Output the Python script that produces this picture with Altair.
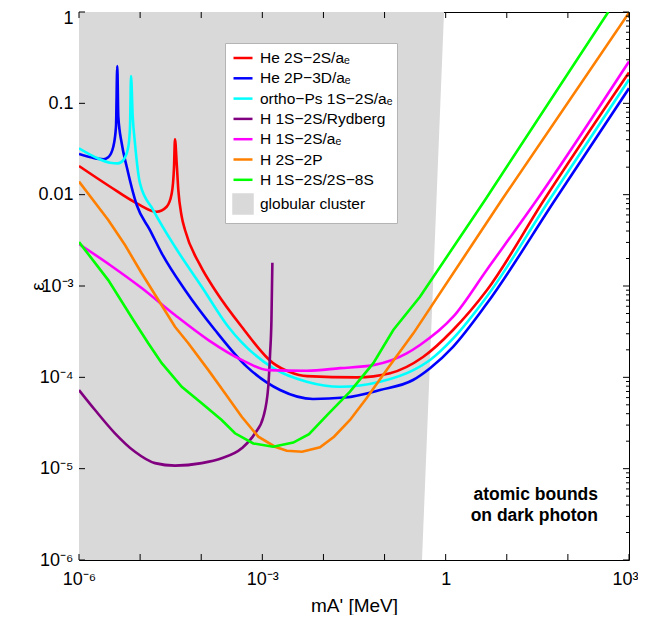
import altair as alt
import pandas as pd

# ---------------- data ----------------
names = ["He 2S−2S/aₑ", "He 2P−3D/aₑ", "ortho−Ps 1S−2S/aₑ", "H 1S−2S/Rydberg",
         "H 1S−2S/aₑ", "H 2S−2P", "H 1S−2S/2S−8S", "globular cluster"]
colors = ["#ff0000", "#0000ff", "#00ffff", "#800080", "#ff00ff", "#ff8000", "#00ff00", "#d9d9d9"]

red_m = [1e-6, 3.1e-6, 8.8e-6, 1.87e-5, 2.72e-5, 3.29e-5, 3.59e-5, 3.72e-5, 3.97e-5, 4.22e-5,
         4.8e-5, 5.43e-5, 9.55e-5, 1.68e-4, 4.6e-4, 1.5e-3, 2.84e-3, 5.38e-3, 0.0354, 0.123,
         0.426, 1.32, 4.75, 40.6, 1000]
red_eps = [0.0206, 0.01245, 8.04e-3, 6.5e-3, 7.38e-3, 0.0103, 0.0202, 0.0404, 0.0220, 0.0112,
           5.74e-3, 4.1e-3, 1.7e-3, 9.04e-4, 3.58e-4, 1.43e-4, 1.14e-4, 1.03e-4, 1.0e-4, 1.11e-4,
           1.67e-4, 3.3e-4, 9.04e-4, 8.74e-3, 0.218]

blue_m = [1e-6, 1.63e-6, 2.5e-6, 3.01e-6, 3.64e-6, 4.03e-6, 4.23e-6, 4.4e-6, 5.0e-6, 6.04e-6,
          8.8e-6, 1.45e-5, 2.26e-5, 5.43e-5, 1.68e-4, 5.55e-4, 1.95e-3, 6.75e-3, 0.0225, 0.0843,
          0.292, 0.555, 1.32, 4.75, 61.5, 1000]
blue_eps = [0.0279, 0.0255, 0.0244, 0.0257, 0.0335, 0.0555, 0.256, 0.0714, 0.0365, 0.0202,
            7.7e-3, 4.1e-3, 2.28e-3, 9.04e-4, 3.3e-4, 1.31e-4, 7.26e-5, 5.79e-5, 6.01e-5, 7.26e-5,
            9.35e-5, 1.26e-4, 2.16e-4, 6.46e-4, 8.74e-3, 0.146]

cyan_m = [1e-6, 1.83e-6, 3.21e-6, 4.35e-6, 5.31e-6, 6.41e-6, 6.84e-6, 7.1e-6, 7.57e-6, 8.24e-6,
          9.96e-6, 1.64e-5, 3.72e-5, 1.02e-4, 2.77e-4, 1.51e-3, 5.32e-3, 0.0187, 0.0843, 0.296,
          0.555, 1.33, 4.7, 49.7, 1000]
cyan_eps = [0.0322, 0.0258, 0.0224, 0.0220, 0.0239, 0.0335, 0.0555, 0.199, 0.0714, 0.0365,
            0.0133, 6.79e-3, 2.69e-3, 9.82e-4, 3.58e-4, 1.26e-4, 8.95e-5, 7.89e-5, 8.95e-5, 1.2e-4,
            1.55e-4, 2.67e-4, 7.63e-4, 8.74e-3, 0.182]

purple_m = [1e-6, 1.83e-6, 3.88e-6, 8.24e-6, 1.75e-5, 3.72e-5, 1.02e-4, 2.16e-4, 4.6e-4, 7.59e-4,
            1.04e-3, 1.25e-3, 1.34e-3, 1.41e-3, 1.46e-3]
purple_eps = [7.26e-5, 4.39e-5, 2.44e-5, 1.53e-5, 1.15e-5, 1.08e-5, 1.15e-5, 1.3e-5, 1.67e-5, 2.44e-5,
              3.7e-5, 7.89e-5, 1.83e-4, 4.25e-4, 1.8e-3]

magenta_m = [1e-6, 3.21e-6, 1.06e-5, 3.72e-5, 1.31e-4, 4.6e-4, 1.25e-3, 5.32e-3, 0.0187, 0.0655,
             0.23, 0.38, 1.33, 4.7, 30.9, 1000]
magenta_eps = [2.88e-3, 1.70e-3, 9.5e-4, 4.81e-4, 2.56e-4, 1.55e-4, 1.2e-4, 1.18e-4, 1.26e-4, 1.36e-4,
               1.83e-4, 2.26e-4, 4.61e-4, 1.5e-3, 8.74e-3, 0.287]

orange_m = [1e-6, 3.01e-6, 5.66e-6, 1.06e-5, 1.99e-5, 3.72e-5, 6.15e-5, 1.31e-4, 2.45e-4, 4.6e-4,
            8.59e-4, 1.61e-3, 2.51e-3, 4.46e-3, 8.79e-3, 0.0149, 0.0272, 0.051, 0.108, 0.296,
            0.38, 8.26, 1000]
orange_eps = [0.0139, 5.28e-3, 2.81e-3, 1.38e-3, 7.03e-4, 3.58e-4, 2.36e-4, 1.2e-4, 6.68e-5, 3.7e-5,
              2.24e-5, 1.74e-5, 1.57e-5, 1.53e-5, 1.71e-5, 2.24e-5, 3.41e-5, 5.94e-5, 1.2e-4, 3.03e-4,
              3.9e-4, 8.74e-3, 0.98]

green_m = [1e-6, 3.01e-6, 7.74e-6, 1.36e-5, 2.26e-5, 4.8e-5, 1.02e-4, 2.16e-4, 3.57e-4, 7.12e-4,
           1.5e-3, 3.21e-3, 5.8e-3, 0.0119, 0.0272, 0.0655, 0.139, 0.38, 4.41, 458]
green_eps = [3.03e-3, 1.16e-3, 4.25e-4, 2.36e-4, 1.43e-4, 7.89e-5, 5.2e-5, 3.41e-5, 2.44e-5, 1.89e-5,
             1.74e-5, 1.93e-5, 2.39e-5, 3.96e-5, 6.97e-5, 1.43e-4, 3.3e-4, 7.63e-4, 8.74e-3, 1.0]

# globular cluster excluded region (left of a slanted edge)
gc_eps = [1e-6, 1.0]
gc_edge_m = [0.41, 0.94]
gc_low_m = 1e-6

ann_lines = ["atomic bounds", "on dark photon"]

x_decades = [1e-6, 1e-5, 1e-4, 1e-3, 1e-2, 1e-1, 1, 10, 100, 1000]
y_decades = [1e-6, 1e-5, 1e-4, 1e-3, 1e-2, 1e-1, 1]
y_minor = [k * d for d in y_decades[:-1] for k in range(2, 10)]
x_label_vals = [1e-6, 1e-3, 1, 1000]

# ---------------- layout constants ----------------
W, H = 550, 548
ANN_M = 311
ANN_EPS = [5.15e-6, 3.03e-6]
FONT = "Liberation Sans"

smooth_sets = [(names[0], red_m, red_eps), (names[1], blue_m, blue_eps), (names[2], cyan_m, cyan_eps),
               (names[3], purple_m, purple_eps), (names[4], magenta_m, magenta_eps)]
linear_sets = [(names[5], orange_m, orange_eps), (names[6], green_m, green_eps)]


def build(sets):
    rows = []
    for name, ms, es in sets:
        for i, (m, e) in enumerate(zip(ms, es)):
            rows.append({"series": name, "m": m, "eps": e, "i": i})
    return pd.DataFrame(rows)


df_smooth = build(smooth_sets)
df_linear = build(linear_sets)
df_gc = pd.DataFrame({"eps": gc_eps, "m_edge": gc_edge_m, "m_low": [gc_low_m] * len(gc_eps)})
df_ann = pd.DataFrame({"m": [ANN_M] * len(ann_lines), "eps": ANN_EPS, "t": ann_lines})

ex = "round(log(datum.value)/LN10)"
xlab = f"{ex} == 0 ? '1' : {ex} == 3 ? '10³' : {ex} == -3 ? '10⁻³' : '10⁻⁶'"
ylab = (f"{ex} == 0 ? '1' : {ex} == -1 ? '0.1' : {ex} == -2 ? '0.01' : "
        f"'10' + ({ex} == -3 ? '⁻³' : {ex} == -4 ? '⁻⁴' : {ex} == -5 ? '⁻⁵' : '⁻⁶')")

xs = alt.Scale(type="log", domain=[1e-6, 1e3])
ys = alt.Scale(type="log", domain=[1e-6, 1])

xaxis = alt.Axis(values=x_label_vals, labelExpr=xlab, ticks=False, tickSize=0, domain=False, grid=False,
                 labelFont=FONT, labelFontSize=18, labelColor="black", labelFlush=False,
                 labelOverlap=False, labelPadding=10,
                 labelOffset={"condition": {"test": "datum.value > 500", "value": -4}, "value": 0},
                 title="mA' [MeV]", titleFont=FONT,
                 titleFontSize=19, titleFontWeight="normal", titleColor="black",
                 titleY=45, titleBaseline="middle")
yaxis = alt.Axis(values=y_decades, labelExpr=ylab, ticks=False, tickSize=0, domain=False, grid=False,
                 labelFont=FONT, labelFontSize=18, labelColor="black", labelFlush=False,
                 labelOverlap=False, labelPadding=6,
                 labelOffset={"condition": {"test": "datum.value > 0.5", "value": 6}, "value": 0},
                 title="ε", titleFont=FONT,
                 titleFontSize=19, titleFontWeight="normal", titleColor="black",
                 titleX=-42, titleY=H / 2, titleBaseline="middle")

legend = alt.Legend(
    title=None, orient="none", legendX=146, legendY=31,
    fillColor="white", strokeColor="#b4b4b4", padding=4,
    symbolType={"expr": "datum.value == 'globular cluster' ? 'square' : 'stroke'"},
    symbolFillColor={"expr": "datum.value == 'globular cluster' ? '#d9d9d9' : 'transparent'"},
    symbolSize=361, symbolStrokeWidth=2.5, symbolOffset=3,
    labelFont=FONT, labelFontSize=15.5, labelColor="black", labelOffset=6,
    rowPadding=0.3, zindex=1,
)
color = alt.Color("series:N", scale=alt.Scale(domain=names, range=colors), legend=legend)

X = lambda f: alt.X(f, scale=xs, axis=xaxis)
Y = lambda f: alt.Y(f, scale=ys, axis=yaxis)

area = alt.Chart(df_gc).mark_area(orient="horizontal", color=colors[-1], opacity=1, clip=True).encode(
    y=Y("eps:Q"), x=alt.X("m_edge:Q", scale=xs, axis=xaxis, stack=None), x2="m_low:Q")

smooth = alt.Chart(df_smooth).mark_line(strokeWidth=2.6, interpolate="monotone", clip=True).encode(
    x=X("m:Q"), y=Y("eps:Q"), color=color, order="i:Q")
linear = alt.Chart(df_linear).mark_line(strokeWidth=2.6, clip=True).encode(
    x=X("m:Q"), y=Y("eps:Q"), color=color, order="i:Q")

tick = dict(color="black", strokeWidth=1)
bottom = alt.Chart(pd.DataFrame({"m": x_decades})).mark_rule(**tick).encode(
    x=X("m:Q"), y=alt.value(H), y2=alt.value(H - 6))
top = alt.Chart(pd.DataFrame({"m": x_decades})).mark_rule(**tick).encode(
    x=X("m:Q"), y=alt.value(0), y2=alt.value(6))
left = alt.Chart(pd.DataFrame({"eps": y_decades})).mark_rule(**tick).encode(
    y=Y("eps:Q"), x=alt.value(0), x2=alt.value(6))
right_major = alt.Chart(pd.DataFrame({"eps": y_decades})).mark_rule(**tick).encode(
    y=Y("eps:Q"), x=alt.value(W), x2=alt.value(W - 6))
right_minor = alt.Chart(pd.DataFrame({"eps": y_minor})).mark_rule(**tick).encode(
    y=Y("eps:Q"), x=alt.value(W), x2=alt.value(W - 3))

ann = alt.Chart(df_ann).mark_text(align="right", baseline="middle", font=FONT, fontSize=17.5,
                                  fontWeight="bold", color="black").encode(
    x=X("m:Q"), y=Y("eps:Q"), text="t:N")

chart = alt.layer(area, smooth, linear, bottom, top, left, right_major, right_minor, ann).properties(
    width=W, height=H,
    autosize=alt.AutoSizeParams(type="none"),
    padding={"left": 71, "top": 4, "right": 9, "bottom": 55},
).configure_view(stroke="black", strokeWidth=1)

chart.save("out.html", embed_options={"renderer": "svg", "actions": False})
